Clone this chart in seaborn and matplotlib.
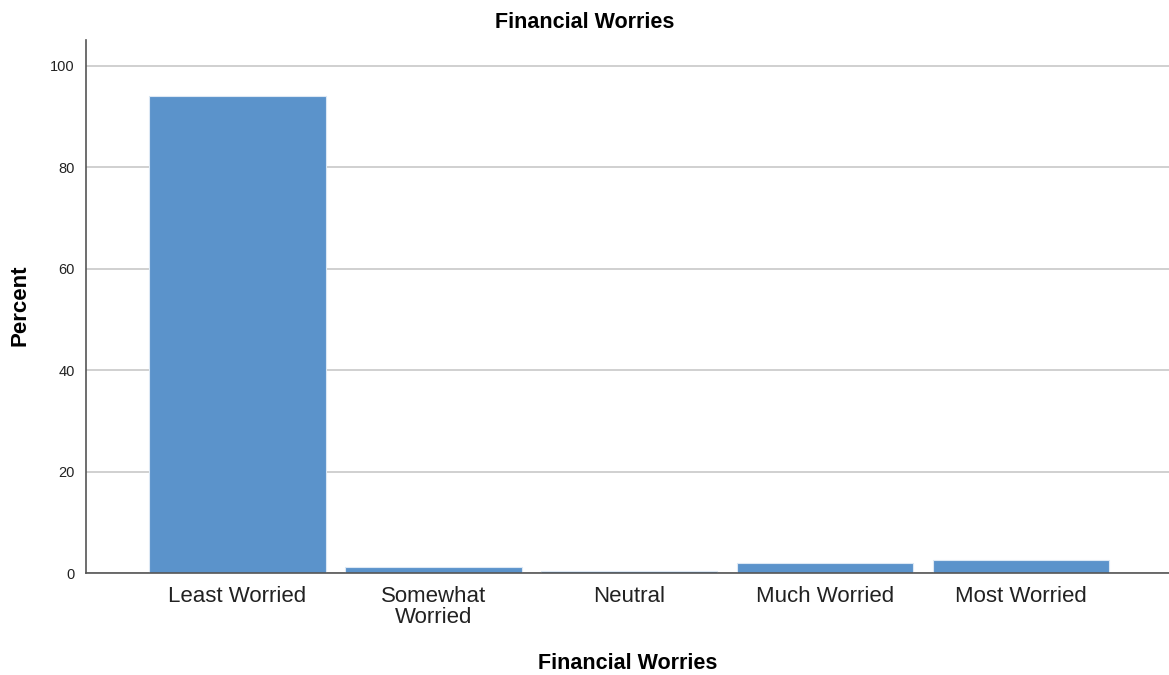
import pandas as pd
import matplotlib.pyplot as plt
import seaborn as sns

# Data
categories = ["Least Worried", "Somewhat\nWorried", "Neutral", "Much Worried", "Most Worried"]
percent = [94.0, 1.1, 0.4, 1.9, 2.6]

df = pd.DataFrame({"Financial Worries": categories, "Percent": percent})

sns.set_style("white")
plt.rcParams['font.family'] = ['Liberation Sans', 'DejaVu Sans']

fig = plt.figure(figsize=(11.69, 6.75), dpi=100)
ax = fig.add_axes([0.0736, 0.151, 0.9264, 0.7897])

ax.yaxis.grid(True, color='#c8c8c8', linewidth=1.2)
ax.set_axisbelow(True)

sns.barplot(data=df, x="Financial Worries", y="Percent", color="#5b93cb",
            saturation=1, width=0.9, edgecolor="#dce8f4", linewidth=0.8, ax=ax)

ax.set_ylim(0, 105.1)
ax.set_xlim(-0.773, 4.755)
ax.set_yticks([0, 20, 40, 60, 80, 100])

for s in ['top', 'right']:
    ax.spines[s].set_visible(False)
for s in ['left', 'bottom']:
    ax.spines[s].set_color('#555555')
    ax.spines[s].set_linewidth(1.2)

ax.tick_params(axis='y', length=0, labelsize=10.5, pad=8, labelcolor='#222222')
ax.tick_params(axis='x', length=0, labelsize=16, pad=9)
for lab in ax.get_xticklabels():
    lab.set_linespacing(1.0)
    lab.set_color('#222222')

fig.suptitle("Financial Worries", x=0.5, y=0.967, va='center', fontsize=15.5, weight='bold', color='black')
ax.set_xlabel("Financial Worries", fontsize=15.5, weight='bold', va='center', color='black')
ax.xaxis.set_label_coords(0.5, -0.169)
ax.set_ylabel("Percent", fontsize=16, weight='bold', va='center', color='black')
ax.yaxis.set_label_coords(-0.0609, 0.503)

plt.savefig("out.png", dpi=100)
